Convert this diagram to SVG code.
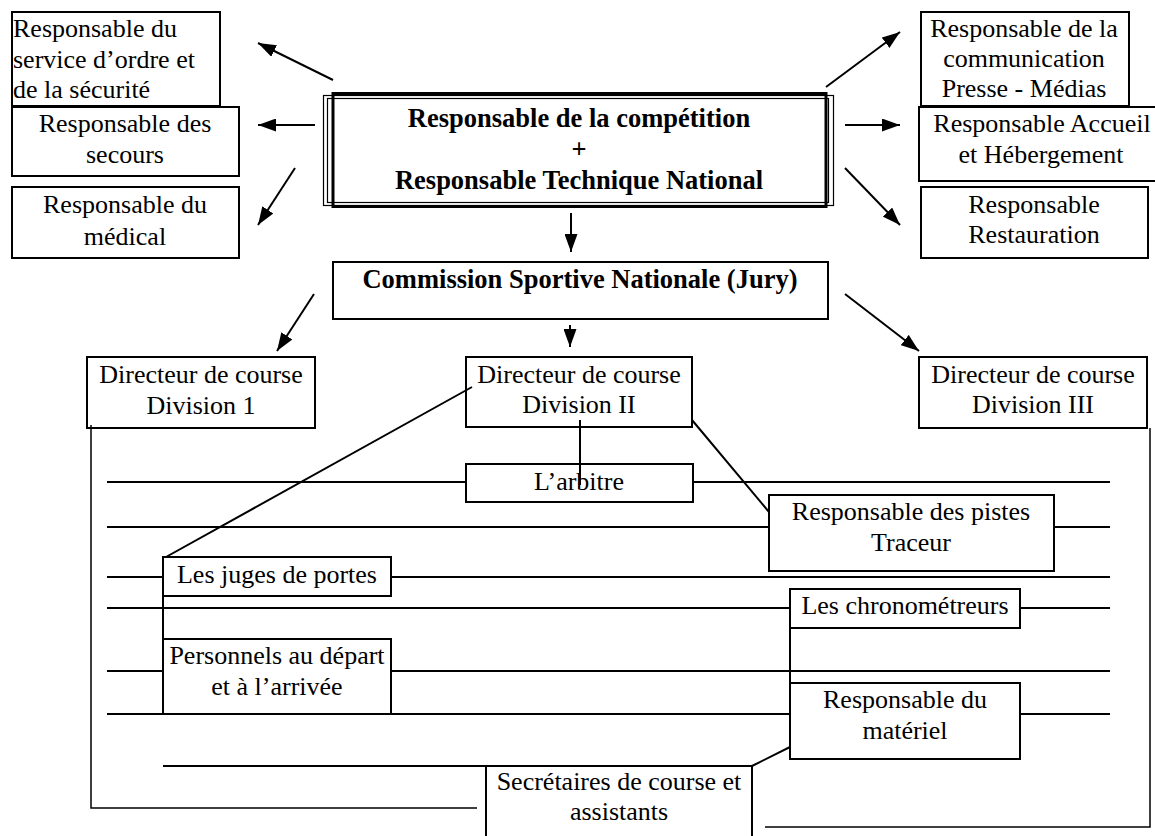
<svg xmlns="http://www.w3.org/2000/svg" width="1155" height="836" viewBox="0 0 1155 836">
<style>
.b{fill:#fff;stroke:#000;stroke-width:2}
.t{font-family:"Liberation Serif","Times New Roman",serif;font-size:26px;fill:#000}
.m{text-anchor:middle}
.bd{font-weight:bold;font-size:26.5px}
.c{stroke:#000;stroke-width:2;fill:none}
.a{stroke:#000;stroke-width:2;fill:none;marker-end:url(#arr)}
.thin{stroke:#000;stroke-width:1.5;fill:none}
.dl{fill:none;stroke:#000;stroke-width:1.2}
</style>
<defs>
<marker id="arr" viewBox="0 0 18 13" refX="18" refY="6.5" markerWidth="18" markerHeight="13" orient="auto" markerUnits="userSpaceOnUse"><path d="M0,0 L18,6.5 L0,13 z" fill="#000"/></marker>
</defs>
<rect width="1155" height="836" fill="#fff"/>
<g id="n-ordre"><rect class="b" x="12" y="12" width="208" height="94"/><text class="t" x="13" y="37">Responsable du</text><text class="t" x="13" y="68">service d’ordre et</text><text class="t" x="13" y="98">de la sécurité</text></g>
<g id="n-secours"><rect class="b" x="12" y="107" width="227" height="69"/><text class="t m" x="125" y="132">Responsable des</text><text class="t m" x="125" y="163">secours</text></g>
<g id="n-medical"><rect class="b" x="12" y="187" width="227" height="71"/><text class="t m" x="125" y="213">Responsable du</text><text class="t m" x="125" y="245">médical</text></g>
<g id="n-competition"><rect x="323.5" y="95.5" width="510" height="110" fill="#fff" class="dl"/><rect x="327.5" y="98.5" width="501" height="104" class="dl"/><rect x="333" y="93.5" width="493" height="113" fill="none" stroke="#000" stroke-width="3"/><text class="t m bd" x="579" y="127">Responsable de la compétition</text><text class="t m bd" x="579" y="158">+</text><text class="t m bd" x="579" y="189">Responsable Technique National</text></g>
<g id="n-communication"><rect class="b" x="921" y="12" width="208" height="94"/><text class="t m" x="1024" y="37">Responsable de la</text><text class="t m" x="1024" y="67">communication</text><text class="t m" x="1024" y="97">Presse - Médias</text></g>
<g id="n-accueil"><rect class="b" x="919" y="107" width="245" height="74"/><text class="t m" x="1042" y="132">Responsable Accueil</text><text class="t m" x="1041" y="163">et Hébergement</text></g>
<g id="n-restauration"><rect class="b" x="921" y="187" width="227" height="71"/><text class="t m" x="1034" y="213">Responsable</text><text class="t m" x="1034" y="243">Restauration</text></g>
<g id="n-commission"><rect class="b" x="333" y="262" width="495" height="57"/><text class="t m bd" x="580" y="288">Commission Sportive Nationale (Jury)</text></g>
<g id="n-div1"><rect class="b" x="87" y="357" width="228" height="71"/><text class="t m" x="201" y="383">Directeur de course</text><text class="t m" x="201" y="414">Division 1</text></g>
<g id="n-div2"><rect class="b" x="466" y="357" width="226" height="70"/><text class="t m" x="579" y="383">Directeur de course</text><text class="t m" x="579" y="413">Division II</text></g>
<g id="n-div3"><rect class="b" x="919" y="357" width="228" height="71"/><text class="t m" x="1033" y="383">Directeur de course</text><text class="t m" x="1033" y="413">Division III</text></g>
<g id="n-arbitre"><rect class="b" x="466" y="464" width="227" height="38"/><text class="t m" x="579" y="490">L’arbitre</text></g>
<g id="n-pistes"><rect class="b" x="769" y="495" width="285" height="76"/><text class="t m" x="911" y="520">Responsable des pistes</text><text class="t m" x="911" y="551">Traceur</text></g>
<g id="n-juges"><rect class="b" x="163" y="557" width="228" height="39"/><text class="t m" x="277" y="583">Les juges de portes</text></g>
<g id="n-chrono"><rect class="b" x="790" y="589" width="230" height="39"/><text class="t m" x="905" y="614">Les chronométreurs</text></g>
<g id="n-personnels"><rect class="b" x="163" y="639" width="228" height="75"/><text class="t m" x="277" y="664">Personnels au départ</text><text class="t m" x="277" y="695">et à l’arrivée</text></g>
<g id="n-materiel"><rect class="b" x="790" y="683" width="230" height="76"/><text class="t m" x="905" y="708">Responsable du</text><text class="t m" x="905" y="739">matériel</text></g>
<g id="n-secretaires"><path class="c" d="M486,840 V766 H752 V840"/><text class="t m" x="619" y="790">Secrétaires de course et</text><text class="t m" x="619" y="820">assistants</text></g>
<g id="connectors">
<line class="a" x1="333" y1="80" x2="258" y2="43"/>
<line class="a" x1="315" y1="125" x2="258" y2="125"/>
<line class="a" x1="295" y1="168" x2="258" y2="225"/>
<line class="a" x1="826" y1="87" x2="900" y2="32"/>
<line class="a" x1="845" y1="125" x2="900" y2="125"/>
<line class="a" x1="845" y1="168" x2="900" y2="225"/>
<line class="a" x1="571" y1="213" x2="571" y2="252"/>
<line class="a" x1="314" y1="294" x2="277" y2="351"/>
<line class="a" x1="570" y1="325" x2="570" y2="347"/>
<line class="a" x1="845" y1="294" x2="919" y2="351"/>
<path class="c" d="M107,482 H466 M693,482 H1110 M107,527 H769 M1054,527 H1110 M107,577 H163 M391,577 H1110 M107,608 H790 M1020,608 H1110 M107,671 H163 M391,671 H1110 M107,714 H790 M1020,714 H1110 M163,766 H486"/>
<path class="c" d="M580,420 V485 M163,596 V639 M790,628 V683"/>
<path class="c" d="M472,387 L166,557 M692,420 L769,512 M790,747 L752,766"/>
<path class="thin" d="M91,425 V808 H477"/>
<path class="thin" d="M1150,428 V827 H765"/>
</g>
</svg>
